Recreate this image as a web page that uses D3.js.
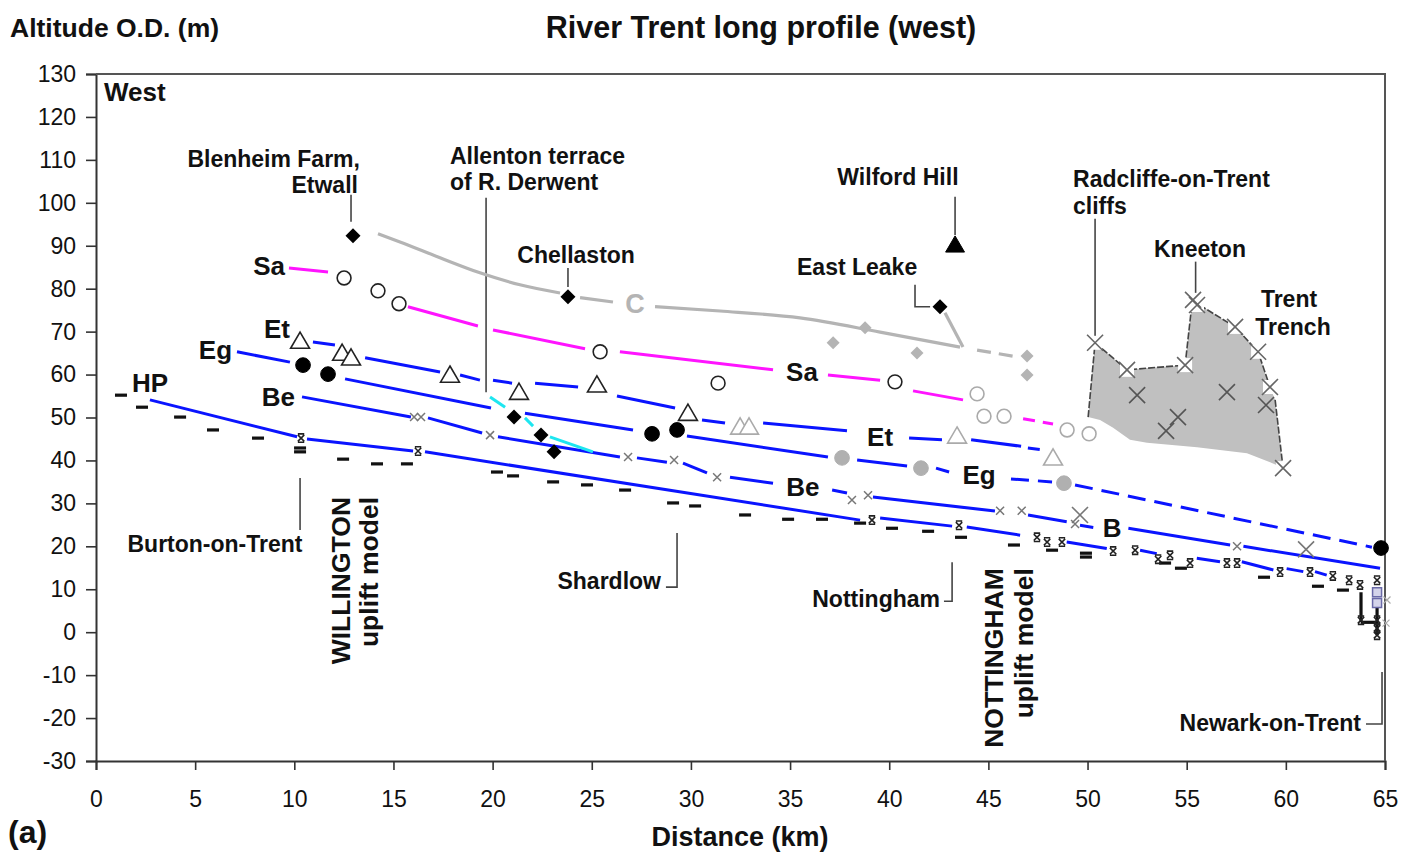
<!DOCTYPE html>
<html><head><meta charset="utf-8">
<script src="https://cdn.jsdelivr.net/npm/d3@7"></script>
<style>
body{margin:0;background:#fff;}
svg{display:block;font-family:"Liberation Sans",Arial,Helvetica,sans-serif;}
</style></head><body>
<svg id="chart" width="1406" height="852"></svg>
<script>
// ---- axis ticks ----
const xTicks = d3.range(0, 66, 5);
const yTicks = d3.range(-30, 131, 10);

// ---- terrace long profiles (distance km, altitude m O.D.) ----
const saSegs = [
  [[9.73,84.8],[11.70,83.9]],
  [[15.73,75.8],[19.26,71.3]],
  [[20.02,70.4],[24.66,66.0]],
  [[26.42,65.3],[34.14,61.1]],
  [[36.91,59.9],[39.54,58.7]],
  [[41.20,56.2],[43.72,54.1]]
];
const saDashed = [[[46.75,49.7],[48.26,48.5]]];

const cCurve = [[14.22,92.8],[15.33,90.9],[17.35,87.2],[19.36,83.7],[21.38,80.9],[23.40,79.0]];
const cSegs = [
  [[24.41,77.9],[26.07,76.9]],
  [[28.19,75.8],[31.47,74.8],[35.50,73.2],[39.54,69.9],[43.57,66.4]]
];
const cDashed = [[[44.43,65.7],[46.49,64.1]]];
const eastLeakeLink = [[42.81,74.4],[43.72,66.4]];

const etSegs = [
  [[10.94,67.6],[12.05,66.9]],
  [[13.57,63.9],[17.35,60.6]],
  [[18.36,59.9],[19.36,58.7]],
  [[20.02,58.7],[20.98,58.0]],
  [[22.14,58.0],[24.31,57.1]],
  [[26.27,55.0],[29.20,52.2]],
  [[30.56,49.4],[31.72,48.7]],
  [[33.64,48.7],[37.87,46.9]],
  [[41.00,45.2],[42.66,44.8]],
  [[44.13,44.8],[46.65,43.3]]
];
const etDashed = [[[46.99,42.9],[47.86,42.4]]];

const egSegs = [
  [[7.11,65.3],[9.78,62.9]],
  [[12.56,59.0],[19.92,52.2]],
  [[21.63,51.0],[27.08,47.1]],
  [[29.80,45.7],[36.91,40.8]],
  [[38.38,40.1],[40.90,38.7]]
];
const egDashed = [
  [[42.36,38.2],[43.02,37.3]],
  [[46.14,35.7],[48.21,35.0]],
  [[49.37,34.3],[64.34,19.8]]
];

const beSegs = [
  [[10.39,54.8],[15.88,50.1]],
  [[16.74,49.9],[19.47,46.4]],
  [[20.27,45.5],[26.42,40.8]],
  [[27.28,40.6],[28.79,39.6]],
  [[29.60,39.4],[30.81,37.1]],
  [[31.97,36.1],[34.14,34.7]],
  [[37.12,33.1],[37.87,32.4]],
  [[39.18,31.5],[45.33,28.2]],
  [[47.00,27.3],[48.95,25.7]],
  [[49.62,24.9],[50.29,24.4]],
  [[52.06,24.2],[57.19,20.3]],
  [[57.86,20.0],[64.75,14.9]]
];

const hpSegs = [
  [[2.72,54.1],[10.14,45.5]],
  [[10.64,45.0],[15.99,42.2]],
  [[16.59,42.0],[38.53,26.1]],
  [[39.54,26.6],[43.17,24.7]],
  [[43.91,24.5],[46.60,22.6]],
  [[48.95,21.0],[50.97,19.5]],
  [[52.65,19.1],[53.49,18.3]],
  [[55.51,17.2],[56.68,16.4]],
  [[57.78,16.4],[59.37,14.5]],
  [[60.04,14.8],[60.88,14.1]],
  [[61.47,14.1],[62.06,13.3]]
];

const allentonSegs = [
  [[19.87,54.8],[20.63,52.4]],
  [[21.63,49.9],[22.04,48.0]],
  [[22.89,45.5],[25.06,42.0]]
];

// ---- point sites ----
const saOpen = [[12.51,82.5],[14.22,79.5],[15.28,76.5],[25.42,65.3],[31.37,58.0],[40.29,58.3]];
const saOpenGrey = [[44.43,55.5],[44.78,50.3],[45.79,50.3],[48.97,47.1],[50.08,46.2]];
const etTri = [[10.29,67.8],[12.41,65.0],[12.86,63.9],[17.85,59.9],[21.33,55.9],[25.26,57.6],[29.85,51.0]];
const etTriGrey = [[32.48,47.8],[32.93,47.8],[43.42,45.7],[48.26,40.6]];
const egDots = [[10.44,62.2],[11.70,60.1],[28.04,46.2],[29.30,47.1],[64.80,19.6]];
const egDotsGrey = [[37.62,40.6],[41.60,38.2],[48.81,34.7]];
const cDiamondsGrey = [[37.17,67.4],[38.78,70.9],[41.40,65.0],[46.95,64.3],[46.95,59.9]];
const blackDiamonds = [[12.96,92.3],[23.80,78.1],[42.56,75.8],[21.08,50.1],[22.44,45.9],[23.10,42.0]];
const wilfordHill = [[43.32,90.2]];
const beCrosses = [[16.04,50.1],[16.39,50.1],[19.87,45.9],[26.83,40.8],[29.15,40.1],[31.32,36.1],
  [38.12,30.8],[38.93,31.9],[45.59,28.3],[46.68,28.3],[49.37,25.2],[57.54,20.0]];
const bigCrosses = [[49.62,27.3],[61.02,19.3]];
const hpCrosses = [[10.34,45.2],[16.24,42.2],[39.13,26.1],[43.52,24.9],[47.45,22.1],[47.96,21.0],
  [48.71,21.0],[51.29,18.9],[52.40,19.1],[53.56,17.0],[54.16,17.9],[55.17,16.1],[57.03,16.1],
  [57.54,16.1],[59.71,14.0],[61.22,14.0],[62.37,13.1],[63.19,12.1],[63.74,11.0],[64.60,12.1],
  [64.60,2.8],[64.60,0.9],[64.60,-0.7],[63.79,2.8]];
const bedDashes = [[1.26,55.2],[2.32,52.4],[4.24,50.1],[5.90,47.1],[8.17,45.2],[10.29,42.9],[10.29,42.0],
  [12.46,40.3],[14.17,39.2],[15.68,39.2],[20.22,37.3],[21.03,36.4],[23.05,35.0],[24.76,34.3],
  [26.68,33.1],[29.10,30.1],[30.21,29.4],[32.73,27.3],[34.90,26.3],[36.61,26.3],[38.53,25.4],
  [40.14,24.2],[41.96,23.5],[43.62,22.1],[46.29,20.3],[48.21,19.1],[49.92,18.4],[49.92,17.5],
  [53.91,16.1],[54.71,14.9],[58.90,12.8],[61.62,10.7],[62.88,9.8]];
const newarkBars = [
  [[63.79,9.3],[63.79,2.3]],
  [[63.79,2.3],[64.60,2.3]],
  [[64.60,5.8],[64.60,-0.7]]
];
const newarkSquares = [[64.60,9.3],[64.60,6.8]];
const newarkFaint = [[65.10,7.5],[65.05,2.1]];

// ---- Trent Trench outline and sites ----
const trenchArea = [[50.38,67.4],[51.99,61.1],[54.92,62.2],[55.27,76.7],[55.47,76.7],[57.44,71.1],
  [58.60,65.3],[59.20,57.1],[59.46,54.1],[59.86,38.2],[59.56,38.9],[58.04,41.7],[55.52,43.1],
  [53.00,44.1],[52.14,44.8],[51.29,47.6],[50.63,49.4],[50.03,50.1]];
const trenchEdges = [
  [[50.03,50.1],[50.38,67.4]],
  [[50.38,67.4],[51.99,61.1],[54.92,62.2],[55.27,76.7],[55.47,76.7],[57.44,71.1],[58.60,65.3],[59.20,57.1]],
  [[59.46,54.1],[59.86,38.2]]
];
const trenchEdgeSites = [[50.38,67.4],[51.99,61.1],[54.92,62.2],[55.32,77.4],[55.52,76.2],
  [57.44,71.1],[58.60,65.3],[59.20,57.1],[59.86,38.2]];
const trenchInnerSites = [[52.50,55.2],[57.03,55.9],[54.56,50.1],[53.96,46.9],[59.00,52.9]];

// ---- leader lines ----
const leaders = [
  [[12.86,101.9],[12.86,95.6]],
  [[23.80,84.8],[23.80,80.4]],
  [[19.67,101.2],[19.67,55.9]],
  [[43.32,101.4],[43.32,92.5]],
  [[42.06,75.8],[41.30,75.8],[41.30,80.9]],
  [[50.38,96.3],[50.38,69.0]],
  [[55.45,86.3],[55.45,79.0]],
  [[10.29,35.9],[10.29,23.8]],
  [[29.30,23.1],[29.30,10.5],[28.74,10.5]],
  [[43.17,16.3],[43.17,7.2],[42.76,7.2]],
  [[64.85,-9.3],[64.85,-21.4],[64.04,-21.4]]
];

// ---- text annotations ----
const placeNotes = [
  ["Blenheim Farm,",13.31,108.4,"end"],["Etwall",13.21,102.3,"end"],
  ["Allenton terrace",17.85,109.1,"start"],["of R. Derwent",17.85,103.0,"start"],
  ["Chellaston",24.21,86.0,"middle"],["Wilford Hill",40.44,104.2,"middle"],
  ["East Leake",38.38,83.2,"middle"],
  ["Radcliffe-on-Trent",49.27,103.7,"start"],["cliffs",49.27,97.4,"start"],
  ["Kneeton",55.67,87.4,"middle"],["Trent",60.16,75.8,"middle"],["Trench",60.36,69.2,"middle"],
  ["Burton-on-Trent",6.0,18.6,"middle"],["Shardlow",28.49,10.0,"end"],
  ["Nottingham",42.56,5.8,"end"],["Newark-on-Trent",63.79,-23.1,"end"]
];
const terraceNames = [
  ["Sa",9.53,83.2,"end"],["Sa",35.60,58.5,"middle"],
  ["Et",9.78,68.5,"end"],["Et",39.54,43.4,"middle"],
  ["Eg",6.86,63.6,"end"],["Eg",44.53,34.5,"middle"],
  ["Be",10.04,52.7,"end"],["Be",35.65,31.7,"middle"],
  ["B",51.24,22.1,"middle"],["HP",1.82,55.9,"start"]
];
const cName = [["C",27.18,74.4]];
const upliftModels = [
  ["WILLINGTON",12.81,31.5],["uplift model",14.22,31.5],
  ["NOTTINGHAM",45.74,14.9],["uplift model",47.25,14.9]
];

// ================= drawing =================
const svg = d3.select("#chart");
const x = d3.scaleLinear().domain([0,65]).range([96,1385]);
const y = d3.scaleLinear().domain([-30,130]).range([761,74]);
const line = d3.line().x(d => x(d[0])).y(d => y(d[1]));
const curve = d3.line().x(d => x(d[0])).y(d => y(d[1])).curve(d3.curveMonotoneX);

const BLUE = "#0a14ff", MAGENTA = "#ff14ff", GREY = "#b4b4b4", CYAN = "#1ee6f0";

// axes
const yAxisG = svg.append("g").attr("transform", `translate(${x(0)},0)`);
yAxisG.call(d3.axisLeft(y).tickValues(d3.range(-30,131,2)).tickSize(5).tickFormat(""));
yAxisG.call(d3.axisLeft(y).tickValues(yTicks).tickSize(10).tickPadding(10).tickFormat(d => String(d)));
const xAxisG = svg.append("g").attr("transform", `translate(0,${y(-30)})`);
xAxisG.call(d3.axisBottom(x).tickValues(d3.range(0,66,1)).tickSize(5).tickFormat(""));
xAxisG.call(d3.axisBottom(x).tickValues(xTicks).tickSize(9).tickPadding(21).tickFormat(d => String(d)));
svg.selectAll(".tick line").attr("stroke", "#333").attr("stroke-width", 1.6);
svg.selectAll(".domain").attr("stroke", "#333").attr("stroke-width", 2);
svg.selectAll(".tick text").attr("font-size", 23).attr("fill", "#111")
  .attr("font-family", '"Liberation Sans", Arial, sans-serif');

// plot frame
svg.append("path")
  .attr("d", `M${x(0)},${y(130)}H${x(65)}V${y(-30)}`)
  .attr("fill", "none").attr("stroke", "#555").attr("stroke-width", 2);

// titles
svg.append("text").attr("x", 761).attr("y", 38).attr("text-anchor", "middle")
  .attr("font-size", 30.5).attr("font-weight", "bold").attr("fill", "#111")
  .text("River Trent long profile (west)");
svg.append("text").attr("x", 10).attr("y", 37)
  .attr("font-size", 26.5).attr("font-weight", "bold").attr("fill", "#111")
  .text("Altitude O.D. (m)");
svg.append("text").attr("x", 740).attr("y", 846).attr("text-anchor", "middle")
  .attr("font-size", 27).attr("font-weight", "bold").attr("fill", "#111")
  .text("Distance (km)");
svg.append("text").attr("x", 8).attr("y", 843)
  .attr("font-size", 32).attr("font-weight", "bold").attr("fill", "#111").text("(a)");
svg.append("text").attr("x", x(0.40)).attr("y", y(123.8))
  .attr("font-size", 26).attr("font-weight", "bold").attr("fill", "#111").text("West");

const plot = svg.append("g");

// Trent Trench shaded area
plot.append("path").datum(trenchArea)
  .attr("d", d => line(d) + "Z").attr("fill", "#c0c0c0").attr("stroke", "none");
plot.selectAll(".edge").data(trenchEdges).join("path")
  .attr("d", line).attr("fill", "none").attr("stroke", "#444")
  .attr("stroke-width", 1.6).attr("stroke-dasharray", "7,2");

// helper for segment groups
function drawSegs(data, colour, width, dash, useCurve) {
  plot.append("g").selectAll("path").data(data).join("path")
    .attr("d", useCurve ? curve : line).attr("fill", "none")
    .attr("stroke", colour).attr("stroke-width", width)
    .attr("stroke-dasharray", dash || null).attr("stroke-linecap", "butt");
}

// leaders
drawSegs(leaders, "#444", 1.6);

// terrace lines
drawSegs([cCurve], GREY, 3.2, null, true);
drawSegs(cSegs, GREY, 3.2, null, true);
drawSegs(cDashed, GREY, 3.2, "14,8");
drawSegs([eastLeakeLink], GREY, 3.2);
drawSegs(saSegs, MAGENTA, 3);
drawSegs(saDashed, MAGENTA, 3, "12,8");
drawSegs(etSegs, BLUE, 3);
drawSegs(etDashed, BLUE, 3, "12,8");
drawSegs(egSegs, BLUE, 3);
drawSegs(egDashed, BLUE, 3, "18,9");
drawSegs(beSegs, BLUE, 3);
drawSegs(hpSegs, BLUE, 3);
drawSegs(allentonSegs, CYAN, 3);
drawSegs(newarkBars, "#111", 3.2);

// marker shapes
const shp = {
  diamond: s => `M0,${-s}L${s},0L0,${s}L${-s},0Z`,
  tri: s => `M0,${-s}L${s*1.05},${s*0.8}L${-s*1.05},${s*0.8}Z`,
  cross: s => `M${-s},${-s}L${s},${s}M${-s},${s}L${s},${-s}`,
  capped: s => `M${-s},${-s}L${s},${s}M${-s},${s}L${s},${-s}M${-s},${-s-1}H${s}M${-s},${s+1}H${s}`,
  square: s => `M${-s},${-s}H${s}V${s}H${-s}Z`
};
function drawPts(data, path, fill, stroke, sw) {
  plot.append("g").selectAll("path").data(data).join("path")
    .attr("transform", d => `translate(${x(d[0])},${y(d[1])})`)
    .attr("d", path).attr("fill", fill).attr("stroke", stroke).attr("stroke-width", sw);
}

// bed-level dashes
plot.append("g").selectAll("rect").data(bedDashes).join("rect")
  .attr("x", d => x(d[0]) - 6).attr("y", d => y(d[1]) - 1.6)
  .attr("width", 12).attr("height", 3.2).attr("fill", "#111");

drawPts(saOpen, d3.symbol(d3.symbolCircle, 150)(), "#fff", "#222", 1.6);
drawPts(saOpenGrey, d3.symbol(d3.symbolCircle, 150)(), "#fff", "#aaa", 1.6);
drawPts(etTri, shp.tri(9), "#fff", "#222", 1.6);
drawPts(etTriGrey, shp.tri(9), "#fff", "#aaa", 1.6);
drawPts(egDots, d3.symbol(d3.symbolCircle, 170)(), "#000", "#000", 1);
drawPts(egDotsGrey, d3.symbol(d3.symbolCircle, 170)(), "#b0b0b0", "#b0b0b0", 1);
drawPts(cDiamondsGrey, shp.diamond(6.5), "#b4b4b4", "none", 0);
drawPts(blackDiamonds, shp.diamond(7.5), "#000", "none", 0);
drawPts(wilfordHill, shp.tri(9), "#000", "#000", 1);
drawPts(beCrosses, shp.cross(4), "none", "#777", 1.5);
drawPts(bigCrosses, shp.cross(8), "none", "#777", 1.6);
drawPts(hpCrosses, shp.capped(3.2), "none", "#222", 1.6);
drawPts(newarkSquares, shp.square(4.5), "#d4d4ea", "#6a6aa8", 1.5);
drawPts(newarkFaint, shp.cross(3.5), "none", "#aaa", 1.2);

// Trent Trench sites
drawPts(trenchEdgeSites, shp.square(7), "#fff", "none", 0);
drawPts(trenchEdgeSites, shp.cross(8), "none", "#666", 1.6);
drawPts(trenchInnerSites, shp.cross(8), "none", "#555", 1.6);

// annotations
const txt = svg.append("g").attr("font-weight", "bold").attr("fill", "#111");
txt.selectAll(".place").data(placeNotes).join("text")
  .attr("x", d => x(d[1])).attr("y", d => y(d[2])).attr("text-anchor", d => d[3])
  .attr("font-size", 23).text(d => d[0]);
txt.selectAll(".terr").data(terraceNames).join("text")
  .attr("x", d => x(d[1])).attr("y", d => y(d[2])).attr("text-anchor", d => d[3])
  .attr("font-size", 26).text(d => d[0]);
txt.selectAll(".cname").data(cName).join("text")
  .attr("x", d => x(d[1])).attr("y", d => y(d[2])).attr("text-anchor", "middle")
  .attr("font-size", 27).attr("fill", "#b4b4b4").text(d => d[0]);
txt.selectAll(".uplift").data(upliftModels).join("text")
  .attr("transform", d => `translate(${x(d[1])},${y(d[2])}) rotate(-90)`)
  .attr("text-anchor", "end").attr("font-size", 26.5).text(d => d[0]);
</script>
</body></html>
